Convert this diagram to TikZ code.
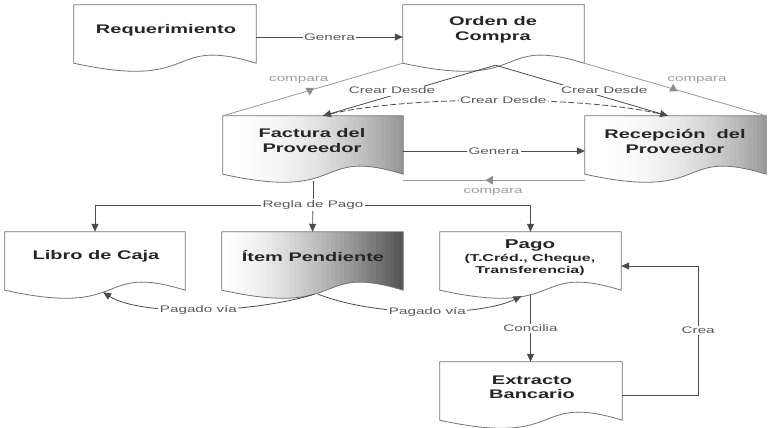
\documentclass[tikz,border=0pt]{standalone}
\usepackage{graphicx}
\usepackage{fontspec}
\setmainfont{Liberation Sans}
\usetikzlibrary{arrows.meta,calc,shapes.geometric}
\pgfdeclarelayer{background}
\pgfsetlayers{background,main}
\newcommand{\sx}[1]{\scalebox{1.6}[1]{#1}}
% #1 node, #2 style, #3 wave depth
\newcommand{\docshape}[3]{%
  \path[#2] (#1.north west) -- (#1.south west)
    .. controls ($(#1.south west)!0.7!(#1.south east)+(0,#3)$)
       and ($(#1.south west)!0.5!(#1.south east)+(0,-#3)$) .. (#1.south east)
    -- (#1.north east) -- cycle;}
% striped horizontal gradient: #1 node, #2 max grey percentage, #3 exponent
\newcommand{\docgrad}[3]{%
  \begin{scope}
    \docshape{#1}{clip}{28}
    \foreach \i in {0,...,39}{
      \pgfmathsetmacro\ta{\i/40}
      \pgfmathsetmacro\tb{(\i+1.3)/40}
      \pgfmathsetmacro\cc{#2*((\i+0.5)/40)^#3}
      \fill[black!\cc] ($(#1.north west)!\ta!(#1.north east)$) rectangle ($(#1.south west)!\tb!(#1.south east)+(0,14)$);
    }
  \end{scope}
  \docshape{#1}{docline}{28}}
\tikzset{
  box/.style={rectangle, inner sep=0pt, draw=none},
  docline/.style={draw=black!55, line width=0.8pt},
  docw/.style={draw=black!55, line width=0.8pt, fill=white},
  ttl/.style={font=\fontsize{12.5}{15}\selectfont\bfseries, text=black!85, align=center, inner sep=0pt},
  lbl/.style={font=\fontsize{9.5}{11}\selectfont, text=black!65, fill=white, inner sep=1.5pt},
  cmpl/.style={font=\fontsize{9.5}{11}\selectfont, text=black!38, inner sep=1pt},
  con/.style={draw=black!70, line width=0.8pt},
  arr/.style={con, -{Triangle[length=8pt,width=7pt]}},
  cmp/.style={draw=black!40, line width=0.8pt},
  tri/.style={regular polygon, regular polygon sides=3, fill=black!45, inner sep=0pt, minimum size=10pt},
}
\begin{document}
\begin{tikzpicture}[x=1pt,y=-1pt]
\useasboundingbox (0,0) rectangle (768,428);
% boxes
\node[box, minimum width=182pt, minimum height=58pt] (req) at (165,34) {};
\node[box, minimum width=181pt, minimum height=58pt] (ord) at (493.5,34) {};
\node[box, minimum width=180pt, minimum height=58pt] (fac) at (313,145) {};
\node[box, minimum width=181pt, minimum height=58pt] (rec) at (675.5,145) {};
\node[box, minimum width=180pt, minimum height=58pt] (lib) at (95,261) {};
\node[box, minimum width=181pt, minimum height=58pt] (item) at (312.5,261) {};
\node[box, minimum width=181pt, minimum height=58pt] (pago) at (530.5,261) {};
\node[box, minimum width=182pt, minimum height=58pt] (ext) at (531,391) {};
\begin{pgfonlayer}{background}
\fill[white] (0,0) rectangle (768,428);
\docshape{req}{docw}{28}
\docshape{ord}{docw}{28}
\docshape{lib}{docw}{28}
\docshape{pago}{docw}{28}
\docshape{ext}{docw}{28}
\docgrad{fac}{42}{2}
\docgrad{rec}{40}{2.2}
\docgrad{item}{68}{1.5}
\end{pgfonlayer}
% texts
\node[ttl] (req-t) at (166,30) {\sx{Requerimiento}};
\node[ttl] (ord-t) at (493,29.5) {\sx{Orden de}\\\sx{Compra}};
\node[ttl] (fac-t) at (312,140.5) {\sx{Factura del}\\\sx{Proveedor}};
\node[ttl] (rec-t) at (675,141) {\sx{Recepción\ \ del}\\\sx{Proveedor}};
\node[ttl] (lib-t) at (96,256) {\sx{Libro de Caja}};
\node[ttl] (item-t) at (313,256) {\sx{Ítem Pendiente}};
\node[ttl, font=\fontsize{10}{12.5}\selectfont\bfseries] (pago-t) at (530,258)
  {{\fontsize{12.8}{14}\selectfont\sx{Pago}}\\\sx{(T.Créd., Cheque,}\\\sx{Transferencia)}};
\node[ttl, font=\fontsize{12.5}{14}\selectfont\bfseries] (ext-t) at (532,387) {\sx{Extracto}\\\sx{Bancario}};
% Genera (top)
\draw[arr] ($(req.east)+(0,3)$) -- ($(ord.west)+(0,3)$) node[lbl, midway]{\sx{Genera}};
% compara left / right
\draw[cmp] (ord.south west) -- (fac.north west)
  node[tri, pos=0.517, rotate=180]{} node[cmpl, pos=0.578, yshift=14pt]{\sx{compara}};
\draw[cmp] (ord.south east) -- (rec.north east)
  node[tri, pos=0.489]{} node[cmpl, pos=0.62, yshift=16pt]{\sx{compara}};
% Crear Desde
\coordinate (ordb) at ($(ord.south)+(2,2)$);
\coordinate (facin) at ($(fac.north)+(10,0)$);
\coordinate (recin) at ($(rec.north)+(-7.5,0)$);
\draw[con, dash pattern=on 6pt off 2.5pt] (facin) .. controls (400,95) and (590,95) .. (recin)
  node[lbl, pos=0.52]{\sx{Crear Desde}};
\draw[arr] (ordb) -- (facin) node[lbl, pos=0.6, yshift=5pt]{\sx{Crear Desde}};
\draw[arr] (ordb) -- (recin) node[lbl, pos=0.63, yshift=7pt]{\sx{Crear Desde}};
% Genera (middle)
\coordinate (g2) at ($(fac.east)+(0,6)$);
\draw[arr] (g2) -- (g2 -| rec.west) node[lbl, midway]{\sx{Genera}};
% compara bottom
\coordinate (c2) at ($(rec.south west)+(0,6)$);
\draw[cmp] (c2) -- (c2 -| fac.east)
  node[tri, pos=0.52, rotate=90]{} node[cmpl, pos=0.505, yshift=-12pt]{\sx{compara}};
% Regla de Pago
\coordinate (rp) at ($(fac.south)+(0,31)$);
\draw[con] ($(fac.south)+(0,7)$) -- (rp);
\draw[arr] (rp) -- (item.north);
\draw[arr] (rp) -| (lib.north);
\draw[arr] (rp) -| (pago.north);
\node[lbl] (rp-l) at (rp) {\sx{Regla de Pago}};
% Pagado via
\coordinate (iw1) at ($(item.south west)!0.51!(item.south east)+(0,4)$);
\coordinate (iw2) at ($(item.south west)!0.53!(item.south east)+(0,4)$);
\coordinate (lw) at ($(lib.south west)!0.545!(lib.south east)+(0,2)$);
\coordinate (pw) at ($(pago.south west)!0.45!(pago.south east)+(0,6)$);
\draw[arr] (iw1) .. controls (250,314) and (140,316) .. (lw) node[lbl, pos=0.5]{\sx{Pagado vía}};
\draw[arr] (iw2) .. controls (380,318) and (480,316) .. (pw) node[lbl, pos=0.5]{\sx{Pagado vía}};
% Concilia
\draw[arr] ($(pago.south)+(0,5)$) -- (pago.south |- ext.north) node[lbl, midway]{\sx{Concilia}};
% Crea
\draw[arr] ($(ext.east)+(0,4)$) -- ++(76,0) |- node[lbl, pos=0.25]{\sx{Crea}} ($(pago.east)+(0,5)$);
\end{tikzpicture}
\end{document}
